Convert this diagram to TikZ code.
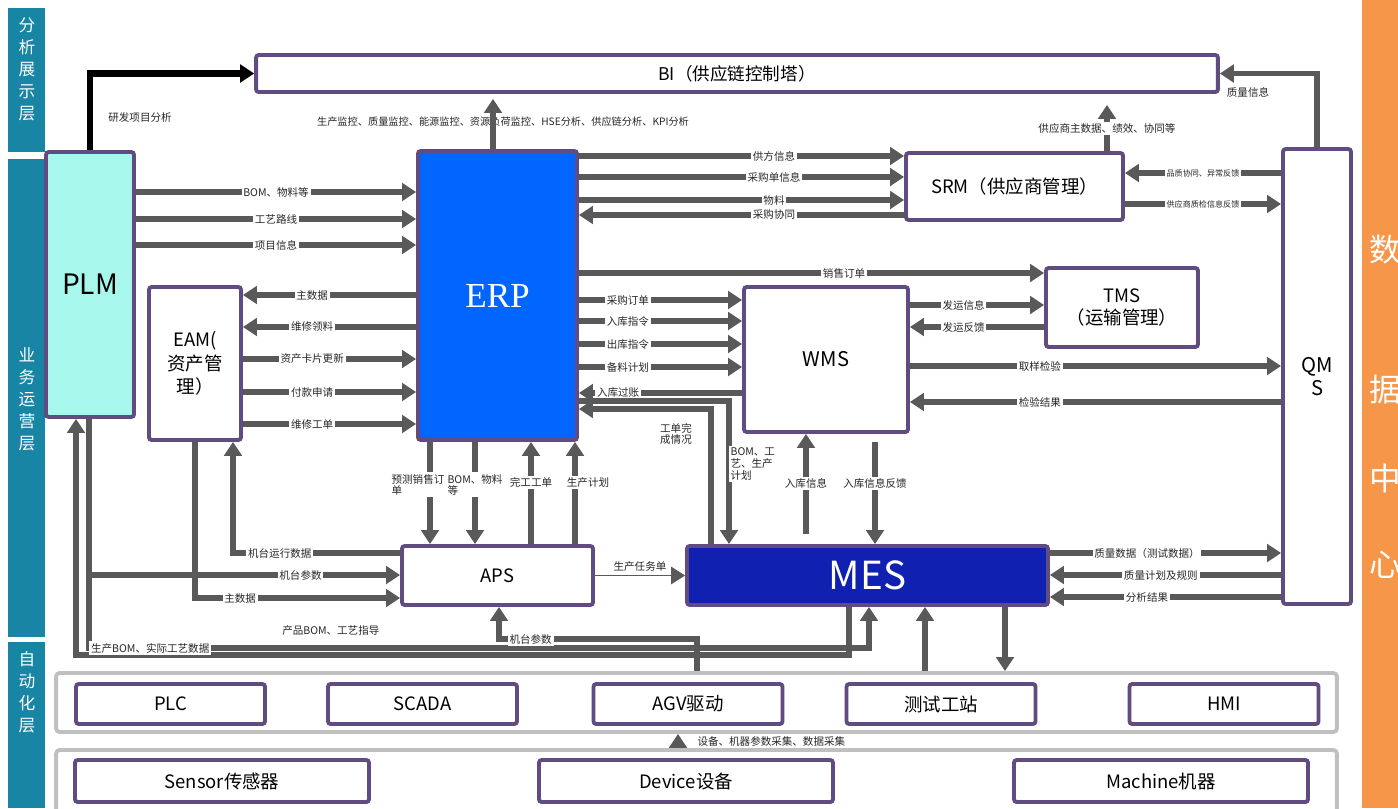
\documentclass[tikz,border=0pt]{standalone}
\usepackage{fontspec}
\setmainfont{Noto Sans CJK SC}
\newfontfamily\erpfont{Liberation Serif}
\usetikzlibrary{arrows.meta, positioning}

\definecolor{layerteal}{RGB}{24,133,164}
\definecolor{dcorange}{RGB}{246,150,72}
\definecolor{boxpurple}{RGB}{96,76,128}
\definecolor{plmcyan}{RGB}{168,247,236}
\definecolor{erpblue}{RGB}{0,102,255}
\definecolor{mesblue}{RGB}{16,32,176}
\definecolor{flowgray}{RGB}{89,89,89}
\definecolor{groupgray}{RGB}{192,192,192}

\begin{document}
\begin{tikzpicture}[
    x=0.02cm, y=-0.02cm,
    box/.style={draw=boxpurple, line width=2.2pt, fill=white, rounded corners=1.5pt, inner sep=0pt, align=center, font=\fontsize{10.5}{13}\selectfont},
    group/.style={draw=groupgray, line width=2.2pt, fill=white, rounded corners=2pt, inner sep=0pt},
    flow/.style={draw=flowgray, line width=3.2pt, -{Triangle[length=8pt, width=10pt]}},
    thinflow/.style={draw=flowgray, line width=0.7pt, -{Triangle[length=8pt, width=10pt]}},
    lbl/.style={fill=white, inner sep=1pt, text=black!85, font=\fontsize{6}{6.6}\selectfont},
    tinylbl/.style={fill=white, inner sep=1pt, text=black!85, font=\fontsize{4.6}{5.5}\selectfont},
    note/.style={inner sep=1pt, text=black!85, font=\fontsize{6}{6.6}\selectfont},
    layer/.style={text=white, align=center, font=\fontsize{9.5}{12.5}\selectfont},
    dcchar/.style={text=white, font=\fontsize{18}{20}\selectfont}
]
\useasboundingbox (0,0) rectangle (1398,808);

% Layer bars
\fill[layerteal] (8,8) rectangle (45,152);
\fill[layerteal] (8,159) rectangle (45,637);
\fill[layerteal] (8,642) rectangle (45,808);
\node[layer] (lyrbi) at (27,69) {分\\析\\展\\示\\层};
\node[layer] (lyrops) at (27,399) {业\\务\\运\\营\\层};
\node[layer] (lyrauto) at (27,692) {自\\动\\化\\层};

% Data center bar
\fill[dcorange] (1362,0) rectangle (1398,808);
\foreach \ch/\yy in {数/250, 据/390, 中/478, 心/565}
  \node[dcchar] (dc\yy) at (1385,\yy) {\ch};

% Systems
\node[box, minimum width=19.24cm, minimum height=0.74cm, font=\fontsize{10}{12}\selectfont] (bi) at (737,73.5) {BI（供应链控制塔）};
\node[box, fill=plmcyan, minimum width=1.76cm, minimum height=5.30cm, font=\fontsize{16}{18}\selectfont] (plm) at (90,284.5) {PLM};
\node[box, fill=erpblue, text=white, minimum width=3.18cm, minimum height=5.78cm, font=\erpfont\fontsize{20}{22}\selectfont] (erp) at (497.5,295.5) {ERP};
\node[box, minimum width=4.34cm, minimum height=1.34cm] (srm) at (1014.5,186.5) {SRM（供应商管理）};
\node[box, minimum width=3.04cm, minimum height=1.58cm] (tms) at (1122,307.5) {TMS\\（运输管理）};
\node[box, minimum width=3.28cm, minimum height=2.90cm, font=\fontsize{11.5}{13}\selectfont] (wms) at (826,359.5) {WMS};
\node[box, minimum width=1.36cm, minimum height=9.10cm, font=\fontsize{11.5}{13}\selectfont] (qms) at (1317,376.5) {QM\\S};
\node[box, minimum width=1.84cm, minimum height=3.06cm, font=\fontsize{10.5}{13.5}\selectfont] (eam) at (195,363.5) {EAM(\\资产管\\理）};
\node[box, minimum width=3.82cm, minimum height=1.18cm] (aps) at (497.5,575.5) {APS};
\node[box, fill=mesblue, text=white, minimum width=7.22cm, minimum height=1.18cm, font=\fontsize{22}{24}\selectfont] (mes) at (867.5,575.5) {MES};

% Automation layer
\node[group, minimum width=25.62cm, minimum height=1.18cm] (autoA) at (696.5,702.5) {};
\node[group, minimum width=25.62cm, minimum height=1.30cm] (autoB) at (696.5,782.5) {};
\foreach \nm/\xx/\txt in {plc/170.5/PLC, scada/422.5/SCADA, agv/688/AGV驱动, test/941/测试工站, hmi/1224/HMI}
  \node[box, minimum width=3.78cm, minimum height=0.80cm] (\nm) at (\xx,704) {\txt};
\foreach \nm/\xx/\txt in {sensor/222/Sensor传感器, device/686/Device设备, machine/1161/Machine机器}
  \node[box, minimum width=5.88cm, minimum height=0.84cm] (\nm) at (\xx,781) {\txt};

% Feeds into BI
\draw[flow, draw=black, line width=3.6pt] (plm.north) |- (bi.west);
\node[note] (rdlbl) at (140,117) {研发项目分析};
\node[note, font=\fontsize{5.8}{6.5}\selectfont] (monlbl) at (503,122) {生产监控、质量监控、能源监控、资源负荷监控、HSE分析、供应链分析、KPI分析};
\draw[flow, shorten >=0.1cm] (erp.north -| 493,0) -- (bi.south -| 493,0);
\draw[flow, shorten >=0.22cm] (srm.north -| 1107,0) -- (bi.south -| 1107,0) node[lbl, pos=0.4] {供应商主数据、绩效、协同等};
\draw[flow] (qms.north) |- (bi.east);
\node[note] (qlbl) at (1248,92) {质量信息};

% PLM -> ERP
\foreach \yy/\txt in {192/BOM、物料等, 219/工艺路线, 245/项目信息}
  \draw[flow] (plm.east |- 0,\yy) -- (erp.west |- 0,\yy) node[lbl, midway] {\txt};

% ERP <-> SRM
\foreach \yy/\txt in {156/供方信息, 177/采购单信息, 200/物料}
  \draw[flow] (erp.east |- 0,\yy) -- (srm.west |- 0,\yy) node[lbl, pos=0.6] {\txt};
\draw[flow] (srm.west |- 0,215) -- (erp.east |- 0,215) node[lbl, pos=0.4] {采购协同};

% SRM <-> QMS
\draw[flow] (qms.west |- 0,173) -- (srm.east |- 0,173) node[tinylbl, midway] {品质协同、异常反馈};
\draw[flow] (srm.east |- 0,204) -- (qms.west |- 0,204) node[tinylbl, midway] {供应商质检信息反馈};

% ERP -> TMS
\draw[flow] (erp.east |- 0,273) -- (tms.west |- 0,273) node[lbl, pos=0.57] {销售订单};

% ERP <-> WMS
\foreach \yy/\txt in {300/采购订单, 321/入库指令, 344/出库指令, 367/备料计划}
  \draw[flow] (erp.east |- 0,\yy) -- (wms.west |- 0,\yy) node[lbl, pos=0.3] {\txt};
\draw[flow] (wms.west |- 0,393) -- (erp.east |- 0,393) node[lbl, pos=0.76] {入库过账};

% WMS <-> TMS, QMS
\draw[flow] (wms.east |- 0,305) -- (tms.west |- 0,305) node[lbl, pos=0.4] {发运信息};
\draw[flow] (tms.west |- 0,327) -- (wms.east |- 0,327) node[lbl, pos=0.6] {发运反馈};
\draw[flow] (wms.east |- 0,366) -- (qms.west |- 0,366) node[lbl, pos=0.35] {取样检验};
\draw[flow] (qms.west |- 0,402) -- (wms.east |- 0,402) node[lbl, pos=0.65] {检验结果};

% ERP <-> EAM
\foreach \yy/\txt in {295/主数据, 327/维修领料}
  \draw[flow] (erp.west |- 0,\yy) -- (eam.east |- 0,\yy) node[lbl, pos=0.6] {\txt};
\foreach \yy/\txt in {359/资产卡片更新, 392/付款申请, 424/维修工单}
  \draw[flow] (eam.east |- 0,\yy) -- (erp.west |- 0,\yy) node[lbl, pos=0.4] {\txt};

% ERP <-> APS
\draw[flow] (erp.south -| 430,0) -- (aps.north -| 430,0) node[lbl, pos=0.42, xshift=-0.24cm, align=left] {预测销售订\\单};
\draw[flow] (erp.south -| 475,0) -- (aps.north -| 475,0) node[lbl, pos=0.42, align=left] {BOM、物料\\等};
\draw[flow] (aps.north -| 531,0) -- (erp.south -| 531,0) node[lbl, pos=0.6] {完工工单};
\draw[flow] (aps.north -| 575,0) -- (erp.south -| 575,0) node[lbl, pos=0.6, xshift=0.26cm] {生产计划};

% ERP <-> MES
\draw[flow] (erp.east |- 0,401) -| (mes.north -| 729,0) node[lbl, pos=0.72, anchor=west, xshift=-0.06cm, align=left] {BOM、工\\艺、生产\\计划};
\draw[flow] (mes.north -| 711,0) |- (erp.east |- 0,409);
\node[note, align=center, font=\fontsize{6}{6.2}\selectfont] (wolbl) at (676,434) {工单完\\成情况};

% WMS <-> MES
\draw[flow, shorten <=0.2cm] (mes.north -| 806,0) -- (wms.south -| 806,0) node[lbl, pos=0.55] {入库信息};
\draw[flow, shorten <=0.16cm] (wms.south -| 875,0) -- (mes.north -| 875,0) node[lbl, pos=0.45] {入库信息反馈};

% APS -> MES
\draw[thinflow] (aps.east) -- (mes.west) node[note, midway, above=1pt] {生产任务单};

% EAM <-> APS
\draw[flow] (eam.south) |- (aps.west |- 0,598) node[lbl, pos=0.61] {主数据};
\draw[flow] (aps.west |- 0,553) -| (eam.south -| 233,0) node[lbl, pos=0.36] {机台运行数据};

% PLM <-> APS, MES
\draw[flow] (plm.south -| 89,0) |- (aps.west |- 0,575) node[lbl, pos=0.84] {机台参数};
\draw[flow] (plm.south -| 89,0) -- (89,648) -| (mes.south -| 869,0) node[note, pos=0.155, above=0.16cm] {产品BOM、工艺指导};
\draw[flow] (mes.south -| 849,0) |- (76,655) node[lbl, pos=0.952, yshift=0.14cm] {生产BOM、实际工艺数据} -- (plm.south -| 76,0);

% Automation <-> APS, MES
\draw[flow] (autoA.north -| 697,0) -- (697,639) -| (aps.south -| 499,0) node[lbl, pos=0.42] {机台参数};
\draw[flow] (autoA.north -| 925,0) -- (mes.south -| 925,0);
\draw[flow] (mes.south -| 1005,0) -- (autoA.north -| 1005,0);

% MES <-> QMS
\draw[flow] (mes.east |- 0,553) -- (qms.west |- 0,553) node[lbl, pos=0.42] {质量数据（测试数据）};
\draw[flow] (qms.west |- 0,575) -- (mes.east |- 0,575) node[lbl, pos=0.52] {质量计划及规则};
\draw[flow] (qms.west |- 0,597) -- (mes.east |- 0,597) node[lbl, pos=0.58] {分析结果};

% Field devices -> automation
\draw[flow] (autoB.north -| 678,0) -- (autoA.south -| 678,0) node[note, midway, right=0.3cm] {设备、机器参数采集、数据采集};

\end{tikzpicture}
\end{document}
